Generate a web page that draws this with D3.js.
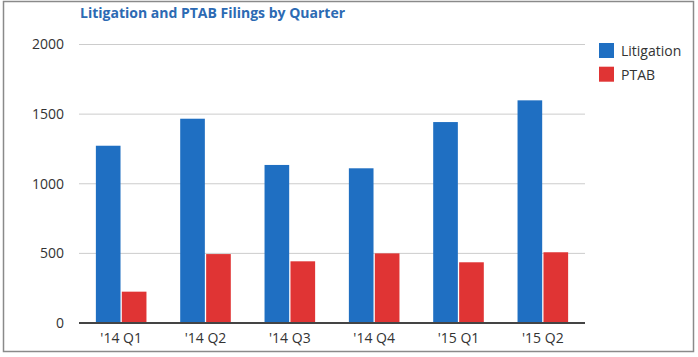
<!DOCTYPE html>
<html><head><meta charset="utf-8">
<script src="https://cdn.jsdelivr.net/npm/d3@7"></script>
<style>html,body{margin:0;padding:0;background:#fff;}svg{display:block;}</style>
</head><body>
<script>
const categories = ["'14 Q1","'14 Q2","'14 Q3","'14 Q4","'15 Q1","'15 Q2"];
const litigation = [1273, 1467, 1135, 1111, 1443, 1599];
const ptab = [225, 495, 443, 500, 436, 508];
const seriesNames = ["Litigation","PTAB"];
const yTicks = [0, 500, 1000, 1500, 2000];
const colors = ["#1f6fc2","#e03434"];

(function(){
const W = 698, H = 357;
const svg = d3.select("body").append("svg").attr("width", W).attr("height", H);
const font = "'Open Sans', sans-serif";

// frame
svg.append("rect").attr("x",3.5).attr("y",1.5).attr("width",690).attr("height",350)
  .attr("fill","#fff").attr("stroke","#8a8a8a").attr("stroke-width",1.5);

const mLeft = 79, mRight = 585, mTop = 44.5, mBottom = 323;
const x = d3.scaleBand().domain(categories).range([mLeft, mRight]).paddingInner(0.4).paddingOuter(0.2);
const x1 = d3.scaleBand().domain(seriesNames).range([0, x.bandwidth()]).paddingInner(0.05);
const y = d3.scaleLinear().domain([0, 2000]).range([mBottom, mTop]);

// gridlines
svg.append("g").selectAll("line").data(yTicks.filter(d=>d>0)).join("line")
  .attr("x1", mLeft).attr("x2", mRight).attr("y1", d=>y(d)).attr("y2", d=>y(d))
  .attr("stroke","#cccccc").attr("stroke-width",1);

// y axis labels
const yAxis = d3.axisLeft(y).tickValues(yTicks).tickFormat(d3.format("d")).tickSize(0).tickPadding(15);
const ya = svg.append("g").attr("transform",`translate(${mLeft},0)`).call(yAxis);
ya.select(".domain").remove();
ya.selectAll("text").attr("font-family",font).attr("font-size",14).attr("fill","#333");

// bars
const data = categories.map((c,i)=>({c, vals:[litigation[i], ptab[i]]}));
const g = svg.append("g").selectAll("g").data(data).join("g")
  .attr("transform", d=>`translate(${x(d.c)},0)`);
g.selectAll("rect").data(d=>d.vals.map((v,j)=>({k:seriesNames[j], v, j}))).join("rect")
  .attr("x", d=>x1(d.k)).attr("width", x1.bandwidth())
  .attr("y", d=>y(d.v)).attr("height", d=>mBottom - y(d.v))
  .attr("fill", d=>colors[d.j]);

// x axis
const xAxis = d3.axisBottom(x).tickSize(0).tickPadding(10);
const xa = svg.append("g").attr("transform",`translate(0,${mBottom})`).call(xAxis);
xa.select(".domain").remove();
xa.selectAll("text").attr("font-family",font).attr("font-size",14).attr("fill","#333");
svg.append("line").attr("x1",mLeft).attr("x2",mRight).attr("y1",mBottom).attr("y2",mBottom)
  .attr("stroke","#444").attr("stroke-width",2);

// title
svg.append("text").attr("x",80).attr("y",18).text("Litigation and PTAB Filings by Quarter")
  .attr("font-family",font).attr("font-weight","bold").attr("font-size",14).attr("fill","#2c6ab3");

// legend
const lg = svg.append("g").selectAll("g").data(seriesNames).join("g")
  .attr("transform",(d,i)=>`translate(599,${43 + i*23.7})`);
lg.append("rect").attr("width",15).attr("height",15).attr("fill",(d,i)=>colors[i]);
lg.append("text").attr("x",22).attr("y",13).text(d=>d)
  .attr("font-family",font).attr("font-size",14).attr("fill","#333");
})();
</script>
</body></html>
